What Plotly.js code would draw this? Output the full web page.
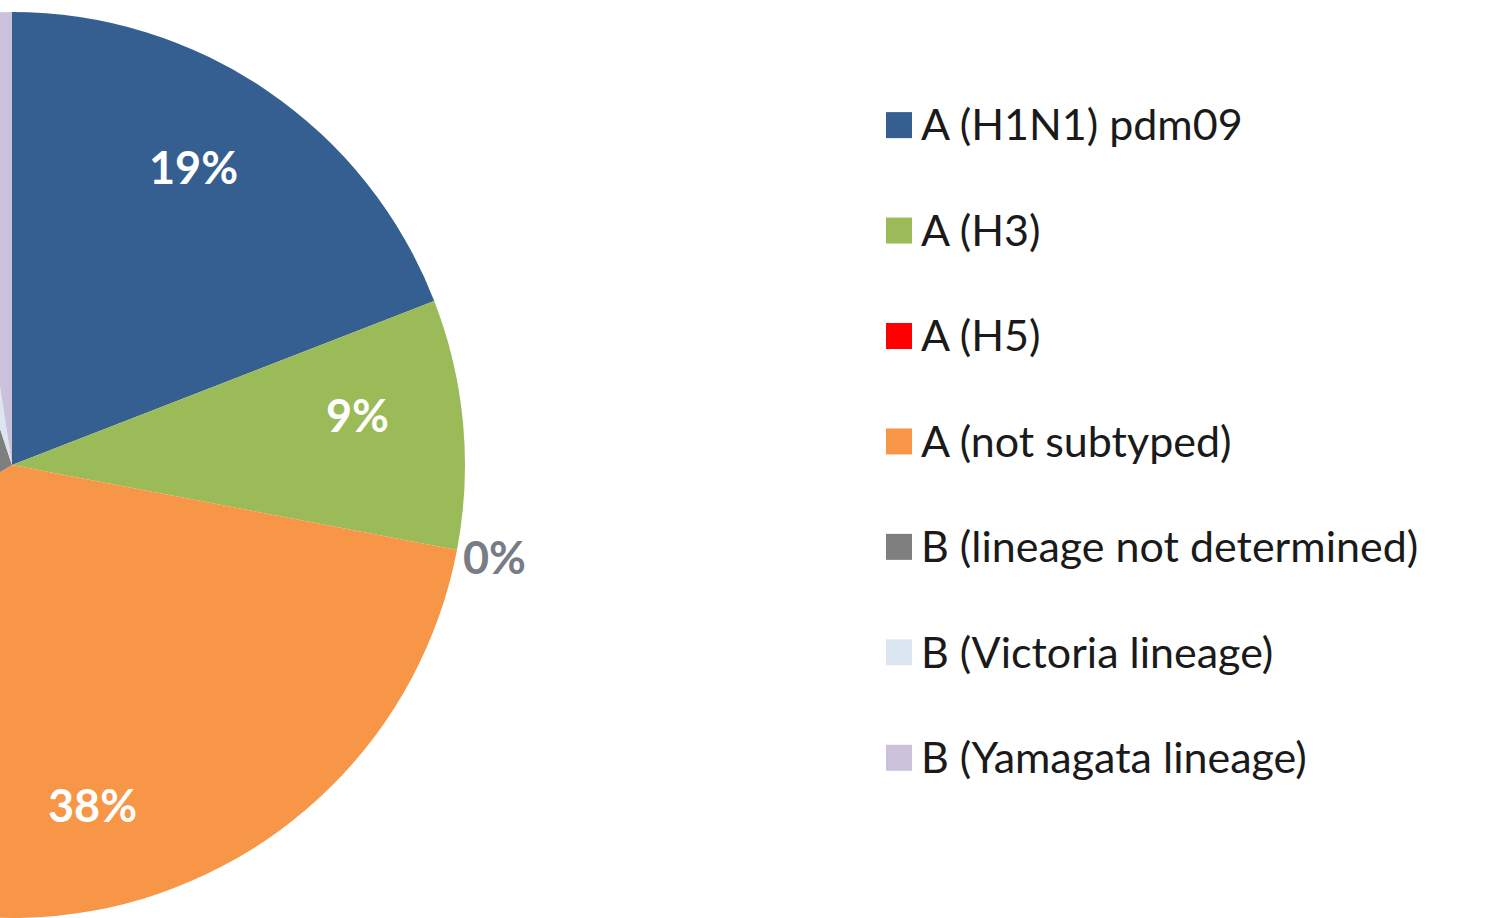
<!DOCTYPE html>
<html>
<head>
<meta charset="utf-8">
<script src="https://cdn.plot.ly/plotly-3.0.1.min.js"></script>
<style>
  html, body { margin: 0; padding: 0; background: #ffffff; overflow: hidden; }
  #wrap { position: relative; width: 1488px; height: 918px; overflow: hidden; }
  #chart { position: absolute; left: -441px; top: 0px; width: 1929px; height: 918px; }
</style>
</head>
<body>
<div id="wrap"><div id="chart"></div></div>
<script>
// Data (shares in percent)
const labels = [
  "A (H1N1) pdm09",
  "A (H3)",
  "A (H5)",
  "A (not subtyped)",
  "B (lineage not determined)",
  "B (Victoria lineage)",
  "B (Yamagata lineage)"
];
const values = [19.1, 8.9, 0, 38.3, 28.6, 2.7, 2.4];
const colors = ["#365F91", "#9BBB59", "#FF0000", "#F79646", "#7F7F7F", "#DCE6F2", "#CCC1DA"];
const labelPlacement = ["inside", "inside", "outside", "inside", "none", "none", "none"];

const W = 1929, H = 918;
const R = 453, CX = 453, CY = 465;            // pie geometry in the plot's pixels
const FONT = "Lato, 'Open Sans', sans-serif";

// legend entries get a spacer line so that the entries sit as far apart as in the reference
const legendLabels = labels.map(l => '<span style="font-size:43px">' + l + '</span><br>\u00a0');

const trace = {
  type: "pie",
  labels: legendLabels,
  values: values,
  sort: false,
  direction: "clockwise",
  rotation: 0,
  marker: { colors: colors, line: { width: 0 } },
  textinfo: "none",
  domain: { x: [0, 2 * R / W], y: [0, 2 * R / H] },
  hoverinfo: "percent"
};

// percentage labels placed near each slice's bisector
const total = values.reduce((a, b) => a + b, 0);
const annotations = [];
let acc = 0;
values.forEach(function (v, i) {
  const insideLbl = labelPlacement[i] === "inside";
  const mid = ((acc + v / 2) / total * 360 - (insideLbl ? 3 : 0)) * Math.PI / 180;
  acc += v;
  if (labelPlacement[i] === "none") return;
  const k = insideLbl ? 0.77 : 1.085;
  const px = CX + k * R * Math.sin(mid);
  const py = CY - k * R * Math.cos(mid);
  annotations.push({
    xref: "paper", yref: "paper",
    x: px / W, y: 1 - py / H,
    xanchor: "center", yanchor: "middle",
    showarrow: false,
    text: Math.round(v / total * 100) + "%",
    font: {
      family: FONT, size: 45, weight: "bold",
      color: insideLbl ? "#ffffff" : "#777c86"
    }
  });
});

const layout = {
  width: W,
  height: H,
  margin: { l: 0, r: 0, t: 0, b: 0 },
  paper_bgcolor: "#ffffff",
  showlegend: true,
  annotations: annotations,
  legend: {
    x: 1318 / W,
    xanchor: "left",
    y: 1 - 93 / H,
    yanchor: "top",
    valign: "top",
    itemwidth: 34,
    font: { family: FONT, size: 39.4, color: "#1a1a1a" },
    bgcolor: "rgba(0,0,0,0)",
    traceorder: "normal"
  }
};

Plotly.newPlot("chart", [trace], layout, { displayModeBar: false, staticPlot: true }).then(function (gd) {
  // larger swatches like the reference
  gd.querySelectorAll(".legendpie").forEach(function (p) {
    p.setAttribute("d", "M13,13H-13V-13H13Z");
  });
});
</script>
</body>
</html>
